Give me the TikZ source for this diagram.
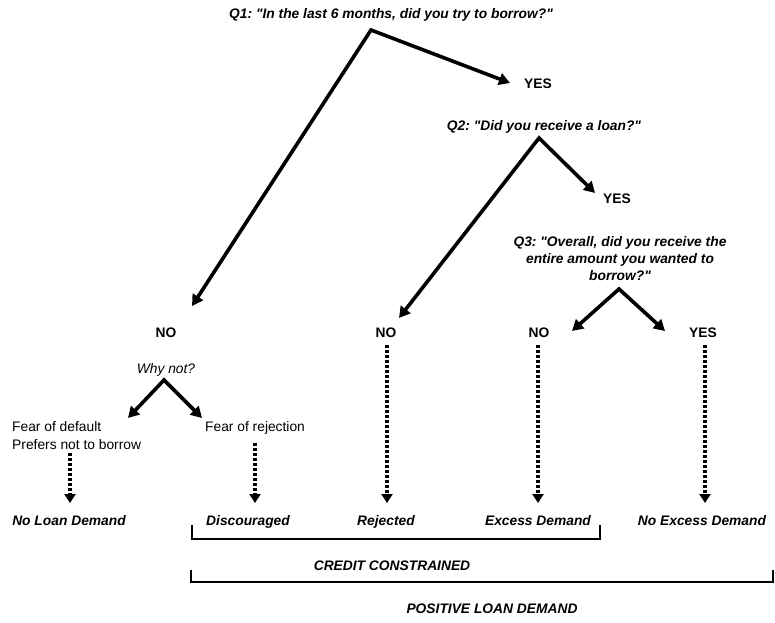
\documentclass[tikz,border=0pt]{standalone}
\usepackage{fontspec}
\setmainfont{Liberation Sans}[Ligatures=TeXOff]
\usetikzlibrary{arrows.meta}
\frenchspacing
\begin{document}
\begin{tikzpicture}[x=1pt,y=-1pt,
  lbl/.style={inner sep=0pt,anchor=base,font=\fontsize{13.8}{17}\selectfont},
  bl/.style={lbl,font=\fontsize{13.8}{17}\selectfont\bfseries},
  bi/.style={lbl,font=\fontsize{13.8}{17}\selectfont\bfseries\itshape},
  it/.style={lbl,font=\fontsize{13.8}{17}\selectfont\itshape},
  vee/.style={line width=3.6pt,line join=miter,{Triangle[length=11pt,width=12pt]}-{Triangle[length=11pt,width=12pt]}},
  darr/.style={line width=4pt,dash pattern=on 3pt off 2pt,-{Triangle[length=9pt,width=11pt]}},
  brk/.style={line width=2.2pt}]
\useasboundingbox (0,0) rectangle (775,622);
% texts
\node[bi] (q1) at (391,18) {Q1: "In the last 6 months, did you try to borrow?"};
\node[bl] (yes1) at (538,88) {YES};
\node[bi] (q2) at (544,130) {Q2: "Did you receive a loan?"};
\node[bl] (yes2) at (617,203) {YES};
\node[bi,align=center,anchor=base] (q3) at (620,280) {Q3: "Overall, did you receive the\\entire amount you wanted to\\borrow?"};
\node[bl] (no1) at (166,337) {NO};
\node[bl] (no2) at (386,337) {NO};
\node[bl] (no3) at (539,337) {NO};
\node[bl] (yes3) at (703,337) {YES};
\node[it] (why) at (166,373) {Why not?};
\node[lbl,anchor=base west] (fd) at (12,431) {Fear of default};
\node[lbl,anchor=base west] (pn) at (12,449) {Prefers not to borrow};
\node[lbl,anchor=base west] (fr) at (205,431) {Fear of rejection};
\node[bi] (o1) at (69,525) {No Loan Demand};
\node[bi] (o2) at (248,525) {Discouraged};
\node[bi] (o3) at (386,525) {Rejected};
\node[bi] (o4) at (538,525) {Excess Demand};
\node[bi] (o5) at (702,525) {No Excess Demand};
\node[bi] (cc) at (392,570) {CREDIT CONSTRAINED};
\node[bi] (pld) at (492,613) {POSITIVE LOAN DEMAND};
% branch points
\coordinate (a1) at (371,30);
\coordinate (t1l) at (192,306);
\coordinate (t1r) at (510,83);
\coordinate (a2) at (539,138);
\coordinate (t2l) at (399,318);
\coordinate (t2r) at (595,193);
\coordinate (a3) at (619,289);
\coordinate (t3l) at (572,331);
\coordinate (t3r) at (665,331);
\coordinate (aw) at (164,380);
\coordinate (twl) at (128,418);
\coordinate (twr) at (202,418);
\draw[vee] (t1l) -- (a1) -- (t1r);
\draw[vee] (t2l) -- (a2) -- (t2r);
\draw[vee] (t3l) -- (a3) -- (t3r);
\draw[vee] (twl) -- (aw) -- (twr);
% dashed arrows
\coordinate (d1s) at (70,453); \coordinate (d1e) at (70,503);
\coordinate (d2s) at (255,443); \coordinate (d2e) at (255,503);
\coordinate (d3s) at (387,345); \coordinate (d3e) at (387,503);
\coordinate (d4s) at (538,345); \coordinate (d4e) at (538,503);
\coordinate (d5s) at (705,345); \coordinate (d5e) at (705,503);
\draw[darr] (d1s) -- (d1e);
\draw[darr] (d2s) -- (d2e);
\draw[darr] (d3s) -- (d3e);
\draw[darr] (d4s) -- (d4e);
\draw[darr] (d5s) -- (d5e);
% brackets
\coordinate (b1a) at (192,525); \coordinate (b1b) at (600,525);
\coordinate (b2a) at (191,570); \coordinate (b2b) at (773,570);
\draw[brk] (b1a) -- (192,539) -- (600,539) -- (b1b);
\draw[brk] (b2a) -- (191,582) -- (773,582) -- (b2b);
\end{tikzpicture}
\end{document}
